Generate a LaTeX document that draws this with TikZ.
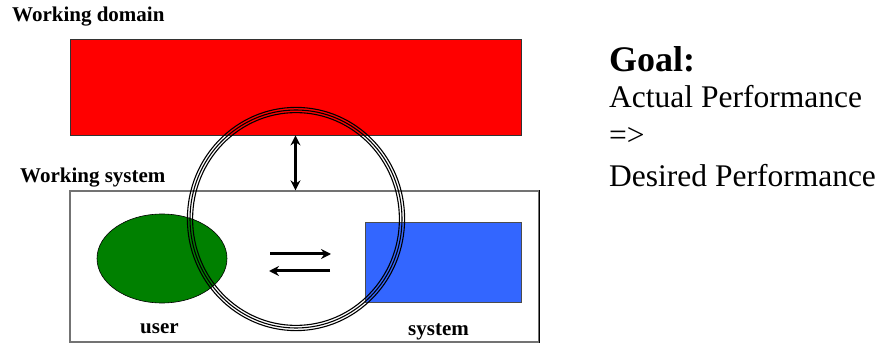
\documentclass[tikz,border=0pt]{standalone}
\usepackage{fontspec}
\setmainfont{Liberation Serif}
\usetikzlibrary{arrows.meta, shapes.geometric}

\definecolor{dominio}{RGB}{255,0,0}
\definecolor{usuario}{RGB}{0,128,0}
\definecolor{sistema}{RGB}{51,102,255}

\tikzset{
  etiqueta/.style={anchor=base west, inner sep=0pt, font=\fontsize{21}{24}\selectfont\bfseries},
  meta/.style={anchor=base west, inner sep=0pt, font=\fontsize{31.5}{36}\selectfont},
  flecha/.style={line width=3pt, -{Stealth[length=10pt, width=10pt]}},
  anillo/.style={line width=1.1pt}
}

\begin{document}
\begin{tikzpicture}[x=1pt, y=-1pt, >=Stealth]
  \useasboundingbox (0,0) rectangle (885,344);

  % Dominio de trabajo
  \node[etiqueta] (tdom) at (12,22) {Working domain};
  \node[draw=black!80, fill=dominio, line width=0.8pt, minimum width=451pt, minimum height=96pt, inner sep=0pt] (dom) at (295.5,87) {};

  % Sistema de trabajo
  \node[etiqueta] (tsis) at (20,183) {Working system};
  \node[draw=black!55, line width=1.3pt, minimum width=469pt, minimum height=151pt, inner sep=0pt] (caja) at (304.5,266.5) {};
  \draw[line width=1.3pt] (caja.north east) -- (caja.south east);

  % Usuario y sistema
  \node[draw=black, fill=usuario, ellipse, line width=0.6pt, minimum width=130pt, minimum height=89pt, inner sep=0pt] (usr) at (162,258.5) {};
  \node[draw=black!70, fill=sistema, line width=0.8pt, minimum width=156pt, minimum height=80pt, inner sep=0pt] (sis) at (443,262.5) {};
  \node[etiqueta] (tusr) at (140,333) {user};
  \node[etiqueta] (tsis2) at (408,335) {system};

  % Anillo
  \coordinate (centro) at (296,219);
  \foreach \d in {-2.6,0,2.6}
    \draw[anillo] (centro) ellipse [x radius={106pt+\d pt}, y radius={109pt+\d pt}];

  % Flecha vertical
  \draw[line width=2.6pt, {Stealth[length=10pt, width=10pt]}-{Stealth[length=10pt, width=10pt]}] (dom.south) -- (dom.south |- caja.north);

  % Flechas horizontales
  \coordinate (a1) at (270,254);
  \coordinate (a2) at (331,254);
  \coordinate (b1) at (330,271);
  \coordinate (b2) at (269,271);
  \draw[flecha] (a1) -- (a2);
  \draw[flecha] (b1) -- (b2);

  % Objetivo
  \node[anchor=base west, inner sep=0pt, font=\fontsize{36}{40}\selectfont\bfseries] (goal) at (609,72) {Goal:};
  \node[meta] (act) at (609,108) {Actual Performance};
  \node[meta] (impl) at (609,146) {=>};
  \node[meta] (des) at (609,187) {Desired Performance};

\end{tikzpicture}
\end{document}
